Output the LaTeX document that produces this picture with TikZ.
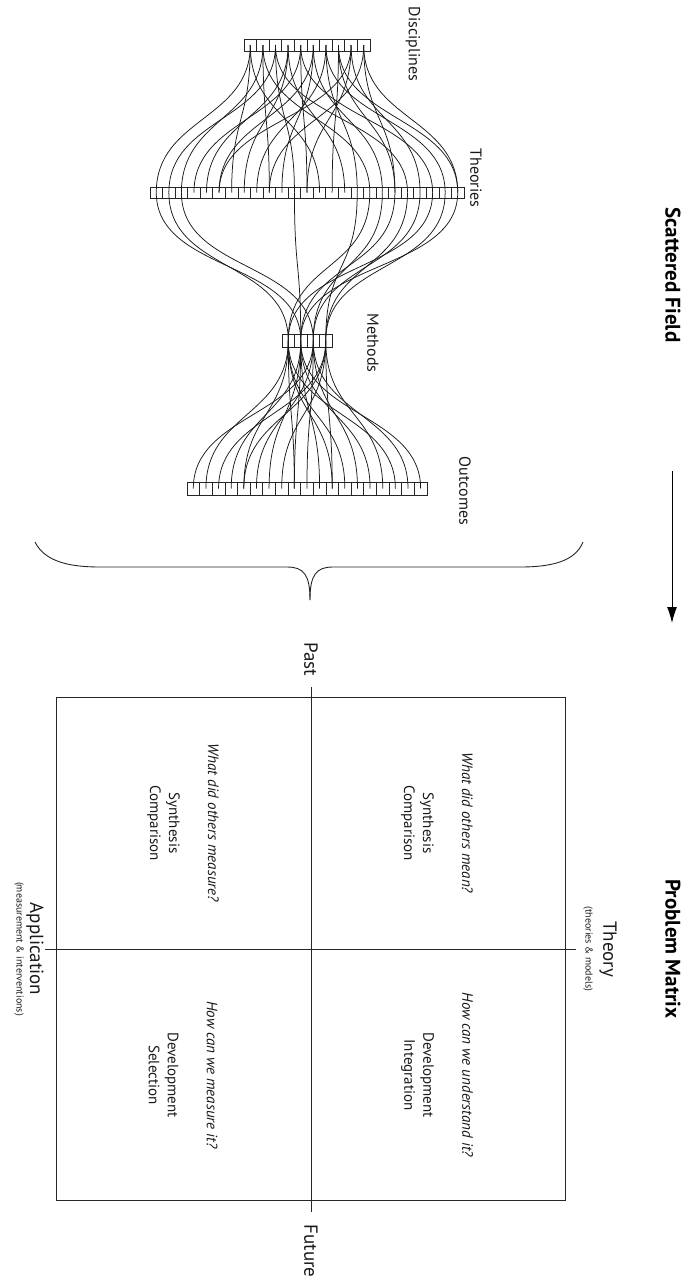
\documentclass[tikz,border=0pt]{standalone}
\usepackage{fontspec}
\setmainfont{PT Sans}
\usetikzlibrary{arrows.meta}
\begin{document}
\begin{tikzpicture}[x=1pt,y=-1pt,
  cellbox/.style={draw=black!85, line width=0.75pt, inner sep=0pt, outer sep=0pt},
  link/.style={draw=black!90, line width=0.75pt},
  frame/.style={draw=black!85, line width=1pt},
  lbl/.style={rotate=-90, inner sep=0pt, text=black!90, font=\fontsize{16}{18}\selectfont},
  title/.style={rotate=-90, inner sep=0pt, text=black, font=\fontsize{21}{24}\bfseries\selectfont},
  axislbl/.style={rotate=-90, inner sep=0pt, text=black!90, font=\fontsize{19}{22}\selectfont},
  sublbl/.style={rotate=-90, inner sep=0pt, text=black!90, font=\fontsize{10}{12}\selectfont},
  quad/.style={rotate=-90, inner sep=0pt, align=center, text=black!90, font=\fontsize{15}{19}\selectfont}]
\useasboundingbox (0,0) rectangle (690,1286);

% ---------- scattered field: four rows of cells ----------
\foreach \i in {0,...,9}
  \node[cellbox, minimum width=12.6pt, minimum height=12pt] (d\i) at ({250.3+12.6*\i},45) {};
\foreach \i in {0,...,24}
  \node[cellbox, minimum width=12.56pt, minimum height=11pt] (t\i) at ({156.28+12.56*\i},192.5) {};
\foreach \i in {0,...,3}
  \node[cellbox, minimum width=12.5pt, minimum height=13pt] (m\i) at ({288.25+12.5*\i},340.5) {};
\foreach \i in {0,...,18}
  \node[cellbox, minimum width=12.63pt, minimum height=13pt] (o\i) at ({193.3+12.63*\i},488.5) {};

% disciplines -> theories
\foreach \a/\b in {0/0,0/6,0/13, 1/2,1/9,1/17, 2/1,2/11,2/20, 3/4,3/7,3/15,
                   4/3,4/12,4/22, 5/5,5/10,5/18, 6/8,6/16,6/23, 7/14,7/19,7/24,
                   8/5,8/21,8/12, 9/9,9/19,9/24}
  \draw[link] (d\a.center) .. controls +(0,75) and +(0,-75) .. (t\b.center);

% theories -> methods
\foreach \a/\b in {0/1,1/0,2/2,11/1,16/3,17/0,18/2,19/1,20/3,21/2,22/0,23/3,24/1}
  \draw[link] (t\a.center) .. controls +(0,80) and +(0,-80) .. (m\b.center);

% methods -> outcomes
\foreach \a/\b in {2/0,0/1,3/2,1/3,0/4,2/5,1/6,3/7,0/8,2/9,1/10,3/11,0/12,2/13,
                   1/14,3/15,0/16,2/17,1/18,3/4,1/8,0/11}
  \draw[link] (m\a.center) .. controls +(0,75) and +(0,-75) .. (o\b.center);

% row labels
\node[lbl] (ldisc) at (413,44) {Disciplines};
\node[lbl] (ltheo) at (476,178) {Theories};
\node[lbl] (lmeth) at (373,343) {Methods};
\node[lbl] (lout)  at (465,491) {Outcomes};

% brace gathering the field
\coordinate (bl) at (35,542);
\coordinate (br) at (583,542);
\coordinate (btip) at (310,600);
\draw[frame, line width=0.9pt] (bl) .. controls (45,562) and (70,567) .. (100,567) -- (287,567)
   .. controls (304,567) and (310,575) .. (btip);
\draw[frame, line width=0.9pt] (br) .. controls (575,562) and (550,567) .. (520,567) -- (333,567)
   .. controls (316,567) and (310,575) .. (btip);

% titles and arrow
\node[title] (tsf) at (673,275) {Scattered Field};
\coordinate (arrS) at (672,471);
\coordinate (arrE) at (672,623);
\draw[line width=1pt, -{Latex[length=16pt,width=10pt]}] (arrS) -- (arrE);
\node[title] (tpm) at (673,949) {Problem Matrix};

% ---------- problem matrix ----------
\node[frame, minimum width=509pt, minimum height=503pt, inner sep=0pt] (box) at (310.5,948.5) {};
\coordinate (vtop) at (311,687);
\coordinate (vbot) at (311,1212);
\coordinate (hl) at (45,949);
\coordinate (hr) at (576,949);
\draw[frame, line width=0.8pt] (vtop) -- (vbot);
\draw[frame, line width=0.8pt] (hl) -- (hr);

\node[axislbl] (past) at (311,659) {Past};
\node[axislbl] (future) at (311,1251) {Future};
\node[axislbl] (theory) at (608,949) {Theory};
\node[sublbl] (theorysub) at (588,949) {(theories \& models)};
\node[axislbl] (appl) at (35,949) {Application};
\node[sublbl] (applsub) at (19,949) {(measurement \& interventions)};

\node[quad] (q1) at (437,823) {\textit{What did others mean?}\\[20pt]Synthesis\\Comparison};
\node[quad] (q2) at (437,1075) {\textit{How can we understand it?}\\[20pt]Development\\Integration};
\node[quad] (q3) at (183,823) {\textit{What did others measure?}\\[20pt]Synthesis\\Comparison};
\node[quad] (q4) at (183,1075) {\textit{How can we measure it?}\\[20pt]Development\\Selection};
\end{tikzpicture}
\end{document}
